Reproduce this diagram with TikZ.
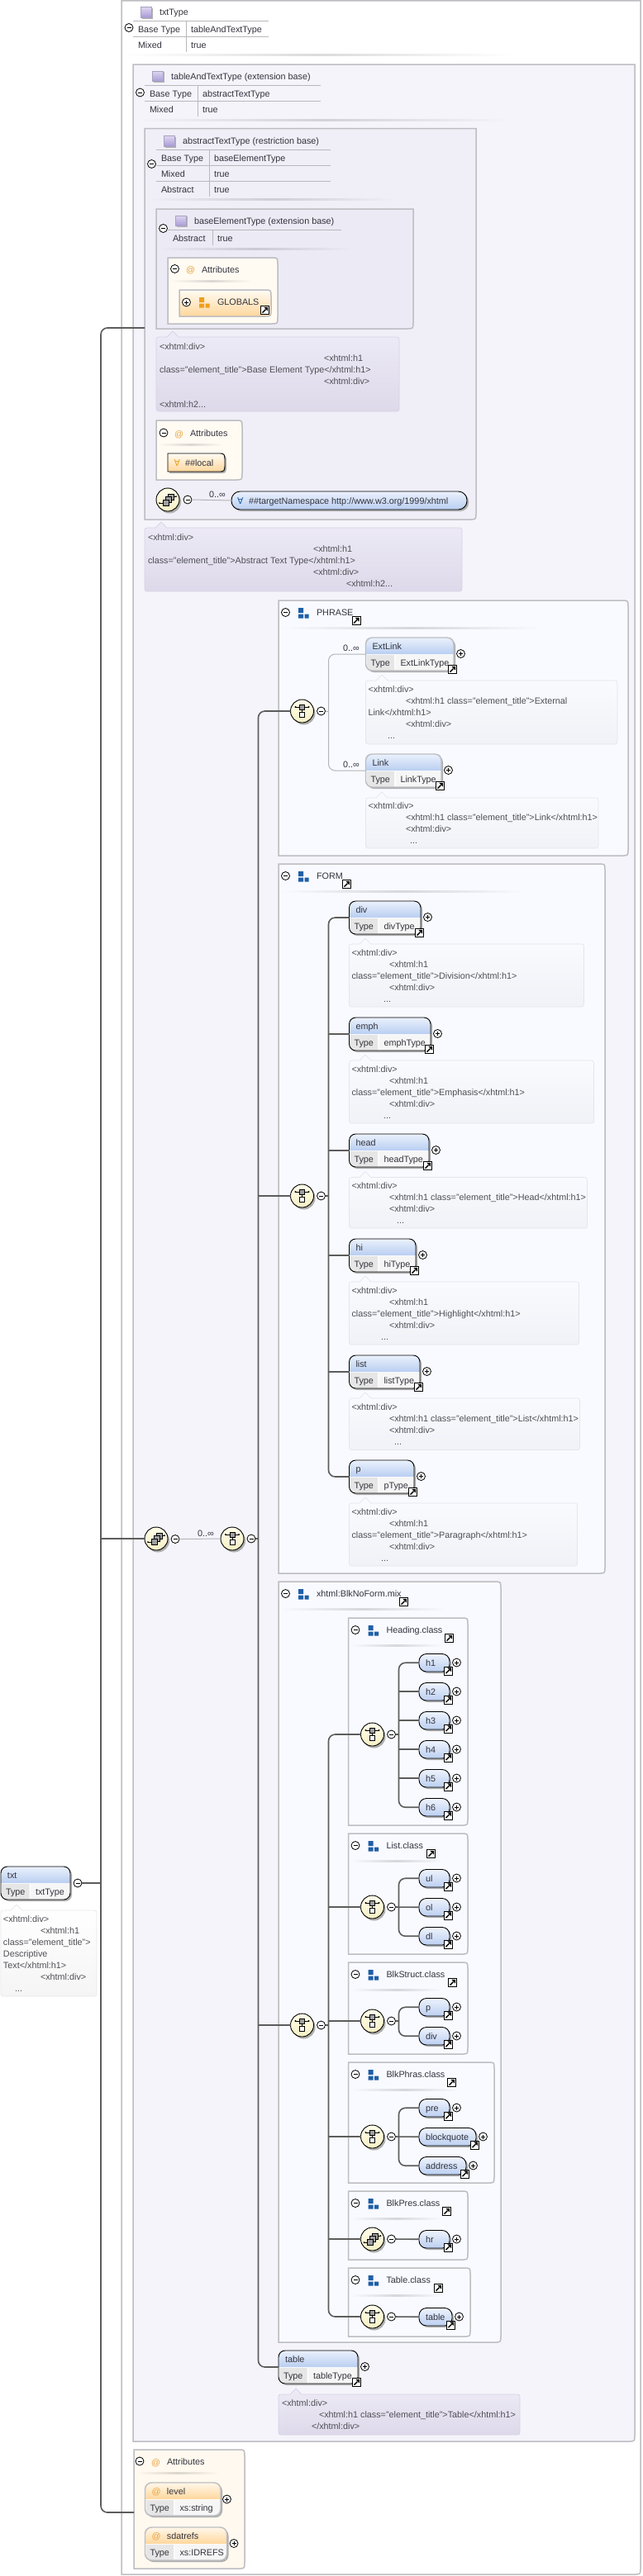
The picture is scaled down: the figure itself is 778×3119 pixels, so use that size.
\documentclass[tikz,border=0pt]{standalone}
\usepackage{fontspec}
\setmainfont{Liberation Sans}
\newfontfamily\djv{DejaVu Sans}
\definecolor{boxline}{HTML}{BDBDC2}
\definecolor{connc}{HTML}{5C5C5C}
\definecolor{thinc}{HTML}{B4B4B8}
\definecolor{tabc}{HTML}{B8B8BC}
\definecolor{txtc}{HTML}{33333D}
\definecolor{doctxt}{HTML}{4F4F55}
\definecolor{bgb}{HTML}{F5F4FB}
\definecolor{bgc}{HTML}{F0EEF7}
\definecolor{bgd}{HTML}{ECEAF5}
\definecolor{bgg}{HTML}{F9FAFF}
\definecolor{bga}{HTML}{FFF9EF}
\definecolor{atc}{HTML}{E8A33D}
\definecolor{blueq}{HTML}{1F5FA6}
\definecolor{orq}{HTML}{EE9F1E}
\definecolor{EAF1FC}{HTML}{EAF1FC}\definecolor{B9CEF1}{HTML}{B9CEF1}
\definecolor{FFF7EA}{HTML}{FFF7EA}\definecolor{FFD79C}{HTML}{FFD79C}
\definecolor{D6D2E4}{HTML}{D6D2E4}\definecolor{EDEBF6}{HTML}{EDEBF6}
\definecolor{DED9EA}{HTML}{DED9EA}\definecolor{E4E6EC}{HTML}{E4E6EC}
\definecolor{FAFBFE}{HTML}{FAFBFE}\definecolor{F1F2F7}{HTML}{F1F2F7}
\definecolor{E8E8E8}{HTML}{E8E8E8}\definecolor{F5F5F5}{HTML}{F5F5F5}
\definecolor{FFFDE9}{HTML}{FFFDE9}\definecolor{F6F0C4}{HTML}{F6F0C4}
\definecolor{EEF3FC}{HTML}{EEF3FC}\definecolor{BBCFF1}{HTML}{BBCFF1}
\definecolor{E6E6E6}{HTML}{E6E6E6}\definecolor{F6F6F6}{HTML}{F6F6F6}
\definecolor{A8A2BE}{HTML}{A8A2BE}\definecolor{E6E0F5}{HTML}{DDD6F0}\definecolor{B4A6DB}{HTML}{A898D6}
\definecolor{FFFBF3}{HTML}{FFFBF3}
\newcounter{auto}
\tikzset{
 lbl/.style={text=txtc,font=\fontsize{10.8}{13}\selectfont,inner sep=0pt,outer sep=0pt,anchor=base west},
 dlbl/.style={lbl,text=doctxt},
 conn/.style={draw=connc,line width=1.6pt},
 connthin/.style={draw=thinc,line width=1pt},
 tabline/.style={draw=tabc,line width=.8pt},
 gbox/.style={draw=boxline,line width=1.5pt},
 bdreq/.style={draw=black,line width=.9pt,inner sep=0pt,outer sep=0pt},
 bdopt/.style={draw=boxline,line width=1.4pt,inner sep=0pt,outer sep=0pt},
 hdrblue/.style={top color=EAF1FC,bottom color=B9CEF1},
 hdrorange/.style={top color=FFF7EA,bottom color=FFD79C},
 doclav/.style={draw=D6D2E4,line width=.7pt,top color=EDEBF6,bottom color=DED9EA},
 docpale/.style={draw=E4E6EC,line width=.7pt,top color=FAFBFE,bottom color=F1F2F7},
 docwhite/.style={draw=E8E8E8,line width=.7pt,top color=white,bottom color=F5F5F5},
 pmsign/.style={circle,draw=black,fill=white,line width=.8pt,minimum size=10pt,inner sep=0pt,outer sep=0pt},
 symb/.style={circle,draw=black,line width=.9pt,top color=FFFDE9,bottom color=F6F0C4,minimum size=28pt,inner sep=0pt,outer sep=0pt},
 smallel/.style={draw=black,line width=.9pt,rounded corners=9pt,top color=EEF3FC,bottom color=BBCFF1,inner sep=0pt,outer sep=0pt},
 shadowc/.style={fill=black!32},
}
\newcommand\tx[3]{\stepcounter{auto}\node[lbl] (n\theauto) at (#1,{#2+4}) {#3};}
\newcommand\dl[3]{\stepcounter{auto}\node[dlbl] (n\theauto) at (#1,{#2+4}) {#3};}
\newcommand\ct{class="element\_title">}
\newcommand\cminus[3]{\node[pmsign] (#1) at (#2,#3) {};\draw[line width=.8pt] ({#2-2.5},#3) -- ({#2+2.5},#3);}
\newcommand\cplus[3]{\node[pmsign] (#1) at (#2,#3) {};\draw[line width=.8pt] ({#2-2.5},#3) -- ({#2+2.5},#3) (#2,{#3-2.5}) -- (#2,{#3+2.5});}
\newcommand\aminus[2]{\stepcounter{auto}\cminus{n\theauto}{#1}{#2}}
\newcommand\fadeline[4]{\fill[left color=#4,right color=#4,middle color=black!14!#4] (#1,{#3-1}) rectangle (#2,{#3+1});}
\newcommand\linkicon[2]{\stepcounter{auto}\node[draw=black,fill=white,line width=1pt,minimum size=10pt,inner sep=0pt,outer sep=0pt] (n\theauto) at (#1,#2) {};
 \draw[line width=1.4pt] ({#1-3},{#2+3}) -- ({#1+1},{#2-1});
 \fill[black] ({#1+3.6},{#2-3.6}) -- ({#1-1.2},{#2-3.6}) -- ({#1+3.6},{#2+1.2}) -- cycle;}
\newcommand\typeicon[2]{\fill[black!30] ({#1-5.5},{#2-5.5}) rectangle ({#1+7.5},{#2+7.5});
 \stepcounter{auto}\node[draw=A8A2BE,line width=.7pt,top color=E6E0F5,bottom color=B4A6DB,minimum size=12.5pt,inner sep=0pt,outer sep=0pt] (n\theauto) at (#1,#2) {};}
\newcommand\grpicon[3]{\fill[#3] ({#1-6},{#2-6}) rectangle (#1,#2) ({#1-6},{#2+1.5}) rectangle (#1,{#2+6.5}) ({#1+1.5},{#2+1.5}) rectangle ({#1+6.5},{#2+6.5});}
% container: x1 y1 x2 y2 fill top-right-radius
\newcommand\cbox[6]{\path[gbox,fill=#5] (#1,#2) -- ({#3-#6-.01},#2) .. controls (#3,#2) .. (#3,{#2+#6+.01}) -- (#3,{#4-8}) .. controls (#3,#4) .. ({#3-8},#4) -- (#1,#4) -- cycle;}
\newcommand\ghead[7]{\aminus{#1+8.5}{#2+.5}\grpicon{#1+30}{#2+1}{blueq}\tx{#1+46}{#2}{#3}\linkicon{#4}{#5}\fadeline{#1+3}{#6}{#2+19}{#7}}
% doc balloon
\newcommand\docbox[7]{\coordinate (#1) at (#2,#3);
 \path[#7] (#2,{#5-6}) -- (#2,{#3+6}) .. controls (#2,#3) .. ({#2+6},#3) -- ({#6-7},#3) -- (#6,{#3-7}) -- ({#6+7},#3) -- ({#4-6},#3) .. controls (#4,#3) .. (#4,{#3+6}) -- (#4,{#5-6}) .. controls (#4,#5) .. ({#4-6},#5) -- ({#2+6},#5) .. controls (#2,#5) .. cycle;}
% element: name x1 y1 x2 label value border header
\newcommand\elplain[8]{%
 \fill[shadowc,rounded corners=8pt] ({#2+2},{#3+2}) rectangle ({#4+2},{#3+42});
 \fill[white,rounded corners=8pt] (#2,#3) rectangle (#4,{#3+40});
 \path[#8] (#2,{#3+20}) -- (#2,{#3+8}) .. controls (#2,#3) .. ({#2+8},#3) -- ({#4-8},#3) .. controls (#4,#3) .. (#4,{#3+8}) -- (#4,{#3+20}) -- cycle;
 \fill[E6E6E6] ({#2+1},{#3+21}) -- ({#2+34.5},{#3+21}) -- ({#2+34.5},{#3+39.5}) -- ({#2+8},{#3+39.5}) .. controls ({#2+1},{#3+39.5}) .. ({#2+1},{#3+32}) -- cycle;
 \fill[F6F6F6] ({#2+36},{#3+21}) -- ({#4-1},{#3+21}) -- ({#4-1},{#3+32}) .. controls ({#4-1},{#3+39.5}) .. ({#4-8},{#3+39.5}) -- ({#2+36},{#3+39.5}) -- cycle;
 \node[#7,rounded corners=8pt,minimum width={(#4-#2)*1pt},minimum height=40pt] (#1) at ({(#2+#4)/2},{#3+20}) {};
 \tx{#2+8}{#3+10}{#5}\tx{#2+6}{#3+30}{Type}\tx{#2+42}{#3+30}{#6}}
\newcommand\element[6]{\elplain{#1}{#2}{#3}{#4}{#5}{#6}{bdreq}{hdrblue}\cplus{#1p}{#4+8.5}{#3+19.5}\linkicon{#4-1.5}{#3+38.5}}
\newcommand\elopt[6]{\elplain{#1}{#2}{#3}{#4}{#5}{#6}{bdopt}{hdrblue}\cplus{#1p}{#4+8.5}{#3+19.5}\linkicon{#4-1.5}{#3+38.5}}
\newcommand\smel[5]{\fill[shadowc,rounded corners=9pt] ({#2+2},{#3-8.5}) rectangle ({#4+2},{#3+13});
 \node[smallel,minimum width={(#4-#2)*1pt},minimum height=21.5pt] (#1) at ({(#2+#4)/2},{#3+.25}) {};
 \tx{#2+8}{#3}{#5}\cplus{#1p}{#4+8.5}{#3}\linkicon{#4-1.5}{#3+10}}
\newcommand\symshadow[2]{\fill[black!32] ({#1+2},{#2+2.5}) circle (14pt);}
\newcommand\seqsym[3]{\symshadow{#2}{#3}\node[symb] (#1) at (#2,#3) {};
 \draw[line width=.8pt] ({#2-8},{#3-5}) -- ({#2+8},{#3-5}) (#2,{#3-5}) -- (#2,{#3+2});
 \fill[black] ({#2-8},{#3-5}) circle (1.1pt) ({#2+8},{#3-5}) circle (1.1pt);
 \draw[line width=.7pt,fill=gray!75] ({#2-3},{#3-8}) rectangle ({#2+3},{#3-2});
 \draw[line width=.8pt,fill=white] ({#2-3},{#3+1.5}) rectangle ({#2+3},{#3+7.5});}
\newcommand\anysym[3]{\symshadow{#2}{#3}\node[symb] (#1) at (#2,#3) {};
 \draw[line width=.8pt] ({#2-10},{#3+4}) -- ({#2-6},{#3+4}) ({#2+4},{#3-4}) -- ({#2+10},{#3-4});
 \fill[black] ({#2-10},{#3+4}) circle (1pt) ({#2+10},{#3-4}) circle (1pt);
 \draw[line width=.7pt,fill=gray!75] ({#2},{#3-7}) rectangle ({#2+7},{#3});
 \draw[line width=.7pt,fill=gray!75] ({#2-3},{#3-4}) rectangle ({#2+4},{#3+3});
 \draw[line width=.7pt,fill=gray!75] ({#2-6},{#3}) rectangle ({#2+1},{#3+7});}
\begin{document}
\begin{tikzpicture}[x=1pt,y=-1pt]
\useasboundingbox (0,0) rectangle (778,3119);
\fill[white] (0,0) rectangle (778,3119);
% ---- containers
\cbox{147}{.75}{775}{3117}{white}{0}
\cbox{161}{78}{768}{2956}{bgb}{0}
\cbox{175}{155.5}{576}{629}{bgc}{0}
\cbox{189}{253}{500}{398}{bgd}{0}
\cbox{203}{312}{336}{392}{FFFBF3}{8}
\cbox{189}{509}{293}{581}{FFFBF3}{8}
\cbox{337}{727}{760}{1036}{bgg}{8}
\cbox{337}{1046}{732}{1905}{bgg}{8}
\cbox{337}{1915}{606}{2836}{bgg}{8}
\cbox{421.5}{1959}{566}{2210}{bgg}{8}
\cbox{421.5}{2220}{566}{2366}{bgg}{8}
\cbox{421.5}{2376}{566}{2487}{bgg}{8}
\cbox{421.5}{2497}{598}{2643}{bgg}{8}
\cbox{421.5}{2653}{566}{2736}{bgg}{8}
\cbox{421.5}{2746}{569}{2829}{bgg}{8}
\cbox{162}{2966}{296}{3110}{bga}{8}
% ---- txtType header
\typeicon{177}{15}\tx{193}{14}{txtType}
\draw[tabline] (161,25) -- (325,25) (161,44) -- (325,44) (225.5,25) -- (225.5,63);
\tx{167}{35}{Base Type}\tx{231}{35}{tableAndTextType}\tx{167}{54}{Mixed}\tx{231}{54}{true}
\aminus{156}{33.5}\fadeline{150}{620}{66.5}{white}
% ---- tableAndTextType
\typeicon{191}{92.5}\tx{207}{92}{tableAndTextType (extension base)}
\draw[tabline] (175,103) -- (388,103) (175,122) -- (388,122) (239.5,103) -- (239.5,141);
\tx{181}{113}{Base Type}\tx{245}{113}{abstractTextType}\tx{181}{132}{Mixed}\tx{245}{132}{true}
\aminus{169.5}{112}\fadeline{163}{620}{145}{bgb}
% ---- abstractTextType
\typeicon{205}{171}\tx{221}{170}{abstractTextType (restriction base)}
\draw[tabline] (189,181.5) -- (400,181.5) (189,200.5) -- (400,200.5) (189,219.5) -- (400,219.5) (253.5,181.5) -- (253.5,238);
\tx{195}{191}{Base Type}\tx{259}{191}{baseElementType}\tx{195}{210}{Mixed}\tx{259}{210}{true}\tx{195}{229}{Abstract}\tx{259}{229}{true}
\aminus{183.5}{198.5}\fadeline{177}{480}{241.5}{bgc}
% ---- baseElementType
\typeicon{219}{267.5}\tx{235}{267}{baseElementType (extension base)}
\draw[tabline] (203,278.5) -- (413,278.5) (257.5,278.5) -- (257.5,297);
\tx{209}{288}{Abstract}\tx{263}{288}{true}
\aminus{197.5}{276.5}\fadeline{191}{425}{301}{bgd}
% ---- attributes 1
\aminus{211.5}{325.5}\tx{225}{326}{\textcolor{atc}{@}}\tx{244}{326}{Attributes}\fadeline{206}{305}{340}{FFFBF3}
\path[draw=boxline,line width=1.5pt,top color=FFFBF3,bottom color=FFD79C] (217,351) -- (320,351) .. controls (328,351) .. (328,359) -- (328,375) .. controls (328,383) .. (320,383) -- (217,383) -- cycle;
\cplus{globp}{225.5}{366}\grpicon{247}{366}{orq}\tx{263}{365}{GLOBALS}\linkicon{320.5}{375.5}
% ---- doc 1
\docbox{docbase}{189}{408}{483}{498}{209}{doclav}
\dl{193}{419}{<xhtml:div>}\dl{392}{433}{<xhtml:h1}\dl{193}{447}{\ct Base Element Type</xhtml:h1>}\dl{392}{461}{<xhtml:div>}\dl{193}{489}{<xhtml:h2...}
% ---- attributes 2
\aminus{198}{524}\tx{211}{525}{\textcolor{atc}{@}}\tx{230}{524}{Attributes}\fadeline{191}{270}{538}{FFFBF3}
\path[fill=black!32] (205,551) -- (266,551) .. controls (274,551) .. (274,562) .. controls (274,573) .. (266,573) -- (205,573) -- cycle;
\path[draw=black,line width=.9pt,top color=FFFBF3,bottom color=FFD79C] (203,549) -- (264,549) .. controls (272,549) .. (272,560) .. controls (272,571) .. (264,571) -- (203,571) -- cycle;
\coordinate (localbox) at (203,560);
\tx{210.5}{560}{\textcolor{orq}{\djv ∀}}\tx{224}{560}{\#\#local}
% ---- any target namespace
\anysym{anyA}{203}{605}\cminus{anyAm}{227}{605}
\fill[black!32,rounded corners=10pt] (282,597) rectangle (567,619);
\node[draw=black,line width=.9pt,rounded corners=10.5pt,top color=EAF1FC,bottom color=B9CEF1,minimum width=285pt,minimum height=22pt,inner sep=0pt,outer sep=0pt] (tns) at (422.5,606) {};
\tx{287}{606}{\textcolor{blueq}{\djv ∀}}\tx{301}{606}{\#\#targetNamespace http://www.w3.org/1999/xhtml}
\tx{253}{598}{0..∞}
% ---- doc 2
\docbox{docabs}{175}{639}{559}{716}{195}{doclav}
\dl{179}{650}{<xhtml:div>}\dl{379}{664}{<xhtml:h1}\dl{179}{678}{\ct Abstract Text Type</xhtml:h1>}\dl{379}{692}{<xhtml:div>}\dl{419}{706}{<xhtml:h2...}
% ---- main choice + sequence
\anysym{anyM}{189}{1863}\cminus{anyMm}{212}{1863.5}\tx{239}{1856}{0..∞}
\seqsym{seqM}{281}{1863}\cminus{seqMm}{304}{1863}
% ---- PHRASE
\ghead{337}{741}{PHRASE}{431}{751.5}{655}{bgg}
\seqsym{seqP}{365.5}{861}\cminus{seqPm}{388.5}{861}
\coordinate (busP) at (397.5,861);
\elopt{ExtLink}{442.5}{772}{549}{ExtLink}{ExtLinkType}\tx{415}{784}{0..∞}
\docbox{docext}{442.5}{824}{747}{901}{462}{docpale}
\dl{445.5}{834.5}{<xhtml:div>}\dl{491}{848.5}{<xhtml:h1 \ct External}\dl{445.5}{862.5}{Link</xhtml:h1>}\dl{491}{876.5}{<xhtml:div>}\dl{469}{890.5}{...}
\elopt{Link}{442.5}{913}{534}{Link}{LinkType}\tx{415}{925}{0..∞}
\docbox{doclink}{442.5}{966}{724}{1027}{462}{docpale}
\dl{445.5}{975.5}{<xhtml:div>}\dl{491}{989.5}{<xhtml:h1 \ct Link</xhtml:h1>}\dl{491}{1003.5}{<xhtml:div>}\dl{496}{1017.5}{...}
% ---- FORM
\ghead{337}{1060}{FORM}{419.5}{1070.5}{635}{bgg}
\seqsym{seqF}{365.5}{1448}\cminus{seqFm}{388.5}{1448}
\coordinate (busF) at (397.5,1448);
\element{eldiv}{422.5}{1091}{509}{div}{divType}
\docbox{docdiv}{422.5}{1143}{706.5}{1219}{442}{docpale}
\dl{425.5}{1153.5}{<xhtml:div>}\dl{471}{1167.5}{<xhtml:h1}\dl{425.5}{1181.5}{\ct Division</xhtml:h1>}\dl{471}{1195.5}{<xhtml:div>}\dl{464}{1209.5}{...}
\element{elemph}{422.5}{1232}{521}{emph}{emphType}
\docbox{docemph}{422.5}{1284}{718.5}{1360}{442}{docpale}
\dl{425.5}{1294.5}{<xhtml:div>}\dl{471}{1308.5}{<xhtml:h1}\dl{425.5}{1322.5}{\ct Emphasis</xhtml:h1>}\dl{471}{1336.5}{<xhtml:div>}\dl{464}{1350.5}{...}
\element{elhead}{422.5}{1373}{519}{head}{headType}
\docbox{dochead}{422.5}{1425.5}{710.5}{1487}{442}{docpale}
\dl{425.5}{1435.5}{<xhtml:div>}\dl{471}{1449.5}{<xhtml:h1 \ct Head</xhtml:h1>}\dl{471}{1463.5}{<xhtml:div>}\dl{480}{1477.5}{...}
\element{elhi}{422.5}{1500}{503}{hi}{hiType}
\docbox{dochi}{422.5}{1552}{700.5}{1628}{442}{docpale}
\dl{425.5}{1562.5}{<xhtml:div>}\dl{471}{1576.5}{<xhtml:h1}\dl{425.5}{1590.5}{\ct Highlight</xhtml:h1>}\dl{471}{1604.5}{<xhtml:div>}\dl{461}{1618.5}{...}
\element{ellist}{422.5}{1641}{508}{list}{listType}
\docbox{doclist}{422.5}{1693}{701.5}{1755.5}{442}{docpale}
\dl{425.5}{1703.5}{<xhtml:div>}\dl{471}{1717.5}{<xhtml:h1 \ct List</xhtml:h1>}\dl{471}{1731.5}{<xhtml:div>}\dl{477}{1745.5}{...}
\element{elp}{422.5}{1768}{501}{p}{pType}
\docbox{docp}{422.5}{1820}{698.5}{1896}{442}{docpale}
\dl{425.5}{1830.5}{<xhtml:div>}\dl{471}{1844.5}{<xhtml:h1}\dl{425.5}{1858.5}{\ct Paragraph</xhtml:h1>}\dl{471}{1872.5}{<xhtml:div>}\dl{461}{1886.5}{...}
% ---- BlkNoForm
\ghead{337}{1929}{xhtml:BlkNoForm.mix}{488.5}{1939.5}{540}{bgg}
\seqsym{seqB}{365.5}{2452}\cminus{seqBm}{388.5}{2452}
\coordinate (busB) at (397.5,2452);
% Heading.class
\ghead{421.5}{1973}{Heading.class}{543.5}{1983.5}{535}{bgg}
\seqsym{seqH}{450.5}{2100}\cminus{seqHm}{473.5}{2100}\coordinate (busH) at (482.5,2100);
\smel{h1}{507}{2013}{544}{h1}\smel{h2}{507}{2048}{544}{h2}\smel{h3}{507}{2083}{544}{h3}
\smel{h4}{507}{2118}{544}{h4}\smel{h5}{507}{2153}{544}{h5}\smel{h6}{507}{2188}{544}{h6}
% List.class
\ghead{421.5}{2234}{List.class}{521.5}{2244.5}{535}{bgg}
\seqsym{seqL}{450.5}{2309}\cminus{seqLm}{473.5}{2309}\coordinate (busL) at (482.5,2309);
\smel{ul}{507}{2274}{544}{ul}\smel{ol}{507}{2309}{544}{ol}\smel{dl}{507}{2344}{544}{dl}
% BlkStruct.class
\ghead{421.5}{2390}{BlkStruct.class}{547.5}{2400.5}{535}{bgg}
\seqsym{seqS}{450.5}{2447}\cminus{seqSm}{473.5}{2447}\coordinate (busS) at (482.5,2447);
\smel{sp}{507}{2430}{544}{p}\smel{sdiv}{507}{2465}{544}{div}
% BlkPhras.class
\ghead{421.5}{2511}{BlkPhras.class}{546.5}{2521.5}{555}{bgg}
\seqsym{seqR}{450.5}{2587}\cminus{seqRm}{473.5}{2587}\coordinate (busR) at (482.5,2587);
\smel{pre}{507}{2552}{544}{pre}\smel{bq}{507}{2587}{576}{blockquote}\smel{addr}{507}{2622}{564}{address}
% BlkPres.class
\ghead{421.5}{2667}{BlkPres.class}{540.5}{2677.5}{535}{bgg}
\anysym{anyH}{450.5}{2711}\cminus{anyHm}{473.5}{2711}
\smel{hr}{507}{2711}{544}{hr}
% Table.class
\ghead{421.5}{2760}{Table.class}{530.5}{2770.5}{535}{bgg}
\seqsym{seqT}{450.5}{2805}\cminus{seqTm}{473.5}{2805}
\smel{tbl}{507}{2805}{547}{table}
% ---- table element
\element{eltable}{337}{2846}{433}{table}{tableType}
\docbox{doctable}{337}{2899}{629}{2948}{358}{doclav}
\dl{341}{2909}{<xhtml:div>}\dl{386}{2923}{<xhtml:h1 \ct Table</xhtml:h1>}\dl{377}{2937}{</xhtml:div>}
% ---- txt root
\elplain{txt}{1}{2260}{85}{txt}{txtType}{bdreq}{hdrblue}\cminus{txtm}{94}{2280}
\docbox{doctxtb}{1}{2313}{117}{2417}{20}{docwhite}
\dl{4}{2323}{<xhtml:div>}\dl{49}{2337}{<xhtml:h1}\dl{4}{2351}{\ct}\dl{4}{2365}{Descriptive}\dl{4}{2379}{Text</xhtml:h1>}\dl{49}{2393}{<xhtml:div>}\dl{18}{2407}{...}
% ---- bottom attributes
\aminus{169}{2980}\tx{183}{2981}{\textcolor{atc}{@}}\tx{202}{2980}{Attributes}\fadeline{165}{265}{2994}{bga}
\elplain{lvl}{175.5}{3006}{267}{\textcolor{atc}{@}\hspace{7.5pt}level}{xs:string}{bdopt}{hdrorange}\cplus{lvlp}{274.5}{3026}
\elplain{sda}{175.5}{3060}{274.5}{\textcolor{atc}{@}\hspace{7.5pt}sdatrefs}{xs:IDREFS}{bdopt}{hdrorange}\cplus{sdap}{283}{3079.5}
% ---- named connector ends
\coordinate (boxCw) at (175,397);
\coordinate (attrW) at (162,3042);
\coordinate (busM) at (122,2280);
\coordinate (busO) at (312.5,1863);
% ---- connectors
\draw[conn,rounded corners=8pt] (boxCw) -- (boxCw -| busM) -- (attrW -| busM) -- (attrW);
\draw[conn] (txtm.east) -- (busM);
\draw[conn] (anyM.west) -- (anyM.west -| busM);
\draw[connthin] (anyMm.east) -- (seqM.west);
\draw[connthin] (anyAm.east) -- (tns.west);
\draw[conn,rounded corners=8pt] (seqP.west) -- (seqP.west -| busO) -- (eltable.west -| busO) -- (eltable.west);
\draw[conn] (seqMm.east) -- (busO);
\draw[conn] (seqF.west) -- (seqF.west -| busO);
\draw[conn] (seqB.west) -- (seqB.west -| busO);
\draw[connthin] (seqPm.east) -- (busP);
\draw[connthin,rounded corners=8pt] (ExtLink.west) -- (ExtLink.west -| busP) -- (Link.west -| busP) -- (Link.west);
\draw[conn] (seqFm.east) -- (busF);
\draw[conn,rounded corners=8pt] (eldiv.west) -- (eldiv.west -| busF) -- (elp.west -| busF) -- (elp.west);
\foreach \e in {elemph,elhead,elhi,ellist}{\draw[conn] (\e.west) -- (\e.west -| busF);}
\draw[conn] (seqBm.east) -- (busB);
\draw[conn,rounded corners=8pt] (seqH.west) -- (seqH.west -| busB) -- (seqT.west -| busB) -- (seqT.west);
\foreach \e in {seqL,seqS,seqR,anyH}{\draw[conn] (\e.west) -- (\e.west -| busB);}
\draw[conn] (seqHm.east) -- (busH);
\draw[conn,rounded corners=8pt] (h1.west) -- (h1.west -| busH) -- (h6.west -| busH) -- (h6.west);
\foreach \e in {h2,h3,h4,h5}{\draw[conn] (\e.west) -- (\e.west -| busH);}
\draw[conn] (seqLm.east) -- (ol.west);
\draw[conn,rounded corners=8pt] (ul.west) -- (ul.west -| busL) -- (dl.west -| busL) -- (dl.west);
\draw[conn] (seqSm.east) -- (busS);
\draw[conn,rounded corners=8pt] (sp.west) -- (sp.west -| busS) -- (sdiv.west -| busS) -- (sdiv.west);
\draw[conn] (seqRm.east) -- (bq.west);
\draw[conn,rounded corners=8pt] (pre.west) -- (pre.west -| busR) -- (addr.west -| busR) -- (addr.west);
\draw[conn] (anyHm.east) -- (hr.west);
\draw[conn] (seqTm.east) -- (tbl.west);
\end{tikzpicture}
\end{document}
